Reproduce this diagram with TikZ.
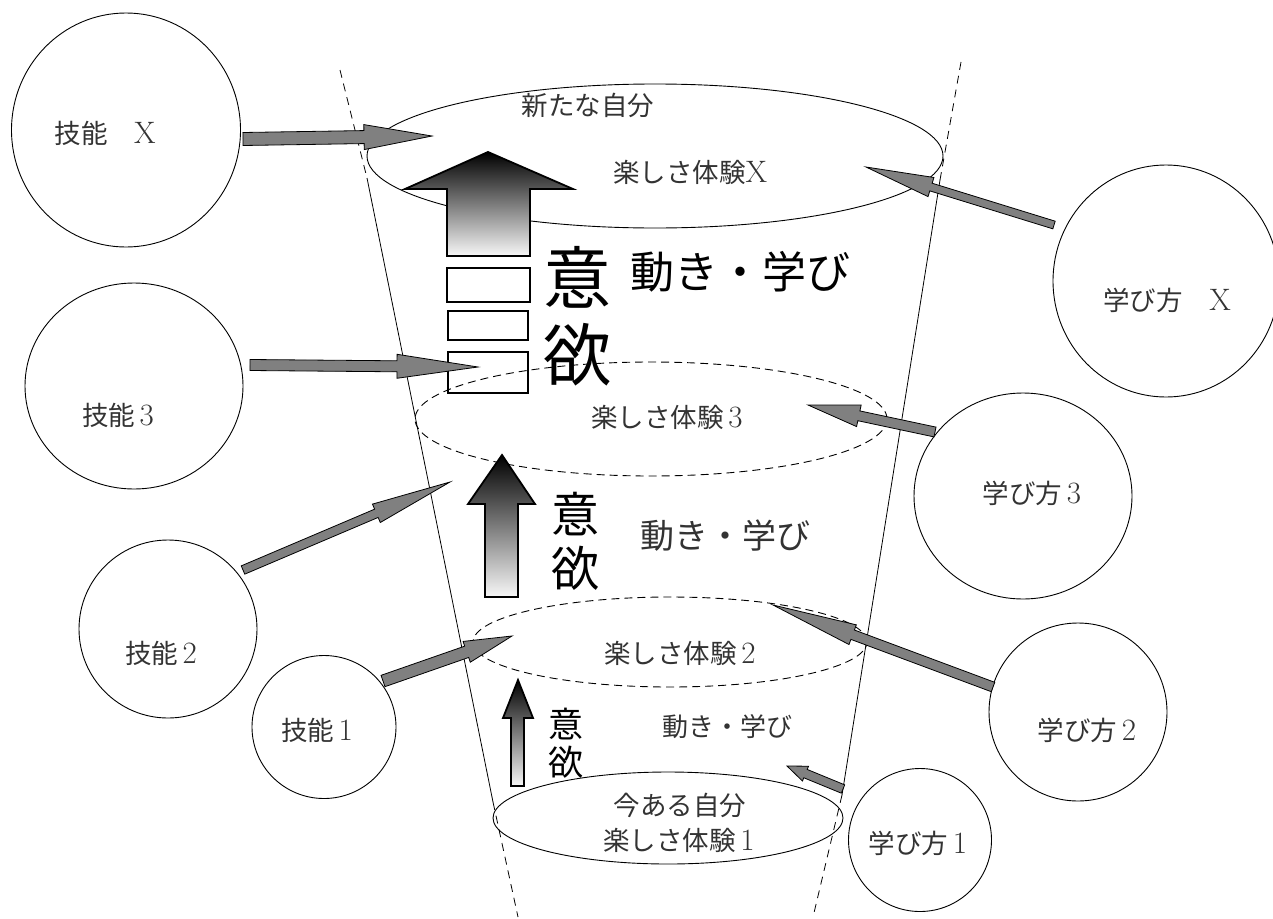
\documentclass[tikz,border=0pt]{standalone}
\usepackage{fontspec}
\newfontfamily\jpf{Noto Sans CJK JP}
\usetikzlibrary{calc,shapes.geometric}
\tikzset{
 ring/.style={ellipse, draw, line width=0.9pt, inner sep=0pt},
 dring/.style={ellipse, draw, line width=0.9pt, inner sep=0pt, dash pattern=on 8pt off 5pt},
 cupline/.style={line width=0.8pt},
 cupdash/.style={line width=0.8pt, dash pattern=on 8pt off 6pt},
 lbl/.style={font=\jpf\fontsize{26.5}{32}\selectfont, text=black!80, inner sep=0pt},
 upar/.style={draw, line width=1.8pt, top color=black, bottom color=black!3},
 boxw/.style={draw, line width=1.8pt},
 garrow/.style={fill=black!50, draw=black, line width=0.8pt},
}
\newcommand\lat[1]{{\rmfamily\fontsize{31}{32}\selectfont #1}}
\newcommand\barrow[5]{%
 \coordinate (bh) at ($(#2)!#5!(#1)$);
 \path[garrow] ($(#1)!#3!90:(#2)$) -- ($(bh)!#3!90:(#2)$) -- ($(bh)!#4!90:(#2)$) -- (#2) -- ($(bh)!#4!-90:(#2)$) -- ($(bh)!#3!-90:(#2)$) -- ($(#1)!#3!-90:(#2)$) -- cycle;}
\begin{document}
\begin{tikzpicture}[x=1pt,y=-1pt]
\useasboundingbox (0,0) rectangle (1273,918);
% cup lines
\coordinate (l0) at (340,70); \coordinate (l1) at (367,178); \coordinate (l2) at (493,802); \coordinate (l3) at (518,917);
\coordinate (r0) at (961,62); \coordinate (r1) at (940,180); \coordinate (r2) at (842,795); \coordinate (r3) at (813,917);
\draw[cupdash] (l0) -- (l1);
\draw[cupline] (l1) -- (l2);
\draw[cupdash] (l2) -- (l3);
\draw[cupdash] (r0) -- (r1);
\draw[cupline] (r1) -- (r2);
\draw[cupdash] (r2) -- (r3);
% ellipses
\node[ring, minimum width=576pt, minimum height=144pt] (etop) at (655,156) {};
\node[dring, minimum width=472pt, minimum height=114pt] (e3) at (651,419) {};
\node[dring, minimum width=394pt, minimum height=90pt] (e2) at (670,642) {};
\node[ring, minimum width=350pt, minimum height=92pt] (e1) at (668,818) {};
% circles
\node[ring, minimum width=229pt, minimum height=234pt] (kx) at (126,130) {};
\node[ring, minimum width=218pt, minimum height=206pt] (k3) at (134,386) {};
\node[ring, minimum width=178pt, minimum height=178pt] (k2) at (168,629) {};
\node[ring, minimum width=144pt, minimum height=143pt] (k1) at (324,727) {};
\node[ring, minimum width=226pt, minimum height=232pt] (mx) at (1166,281) {};
\node[ring, minimum width=218pt, minimum height=206pt] (m3) at (1023,496) {};
\node[ring, minimum width=178pt, minimum height=178pt] (m2) at (1078,712) {};
\node[ring, minimum width=143pt, minimum height=143pt] (m1) at (920,840) {};
% labels
\node[lbl] (tkx) at (105,133) {技能　\lat{X}};
\node[lbl] (tk3) at (118,415) {技能\,\lat{3}};
\node[lbl] (tk2) at (161,653) {技能\,\lat{2}};
\node[lbl] (tk1) at (317,730) {技能\,\lat{1}};
\node[lbl] (tmx) at (1167,300) {学び方　\lat{X}};
\node[lbl] (tm3) at (1032,493) {学び方\,\lat{3}};
\node[lbl] (tm2) at (1087,730) {学び方\,\lat{2}};
\node[lbl] (tm1) at (918,843) {学び方\,\lat{1}};
\node[lbl] (tnew) at (588,105) {新たな自分};
\node[lbl] (tetx) at (690,172) {楽しさ体験\lat{X}};
\node[lbl] (te3) at (667,417) {楽しさ体験\,\lat{3}};
\node[lbl] (te2) at (680,653) {楽しさ体験\,\lat{2}};
\node[lbl] (tnow) at (680,805) {今ある自分};
\node[lbl] (te1) at (679,840) {楽しさ体験\,\lat{1}};
% gradient up arrows and boxes
\path[upar] (488,152) -- (573,189) -- (530,189) -- (530,256) -- (447,256) -- (447,189) -- (405,189) -- cycle;
\path[upar] (502,455) -- (535,504) -- (518,504) -- (518,597) -- (485,597) -- (485,504) -- (468,504) -- cycle;
\path[upar] (518,680) -- (533,718) -- (524,718) -- (524,786) -- (511,786) -- (511,718) -- (503,718) -- cycle;
\draw[boxw] (447,268) rectangle (530,302);
\draw[boxw] (448,311) rectangle (528,340);
\draw[boxw] (448,352) rectangle (528,393);
% motivation texts
\node[font=\jpf\fontsize{68}{77}\selectfont, align=center, inner sep=0pt] (ib) at (577,316) {意\\欲};
\node[font=\jpf\fontsize{44}{50}\selectfont, inner sep=0pt] (db) at (740,272) {動き・学び};
\node[font=\jpf\fontsize{48}{54}\selectfont, align=center, inner sep=0pt] (im) at (575,541) {意\\欲};
\node[font=\jpf\fontsize{34}{40}\selectfont, text=black!80, inner sep=0pt] (dm) at (725,536) {動き・学び};
\node[font=\jpf\fontsize{35}{38}\selectfont, align=center, inner sep=0pt] (is) at (566,743) {意\\欲};
\node[font=\jpf\fontsize{26}{30}\selectfont, text=black!80, inner sep=0pt] (ds) at (727,727) {動き・学び};
% gray block arrows
\coordinate (akx0) at (243,139); \coordinate (akx1) at (432,136);
\coordinate (ak30) at (250,365); \coordinate (ak31) at (478,367);
\coordinate (ak20) at (243,570); \coordinate (ak21) at (450,482);
\coordinate (ak10) at (383,681); \coordinate (ak11) at (512,636);
\coordinate (amx0) at (1054,225); \coordinate (amx1) at (866,167);
\coordinate (am30) at (935,432); \coordinate (am31) at (808,405);
\coordinate (am20) at (993,687); \coordinate (am21) at (773,605);
\coordinate (am10) at (843,789); \coordinate (am11) at (787,766);
\barrow{akx0}{akx1}{6.5pt}{12.5pt}{68pt}
\barrow{ak30}{ak31}{5.5pt}{12pt}{81pt}
\barrow{ak20}{ak21}{4.5pt}{10pt}{80pt}
\barrow{ak10}{ak11}{6pt}{11pt}{48pt}
\barrow{amx0}{amx1}{4pt}{10pt}{68pt}
\barrow{am30}{am31}{5pt}{11pt}{52pt}
\barrow{am20}{am21}{5pt}{10.5pt}{85pt}
\barrow{am10}{am11}{4.5pt}{8pt}{20pt}
\end{tikzpicture}
\end{document}
